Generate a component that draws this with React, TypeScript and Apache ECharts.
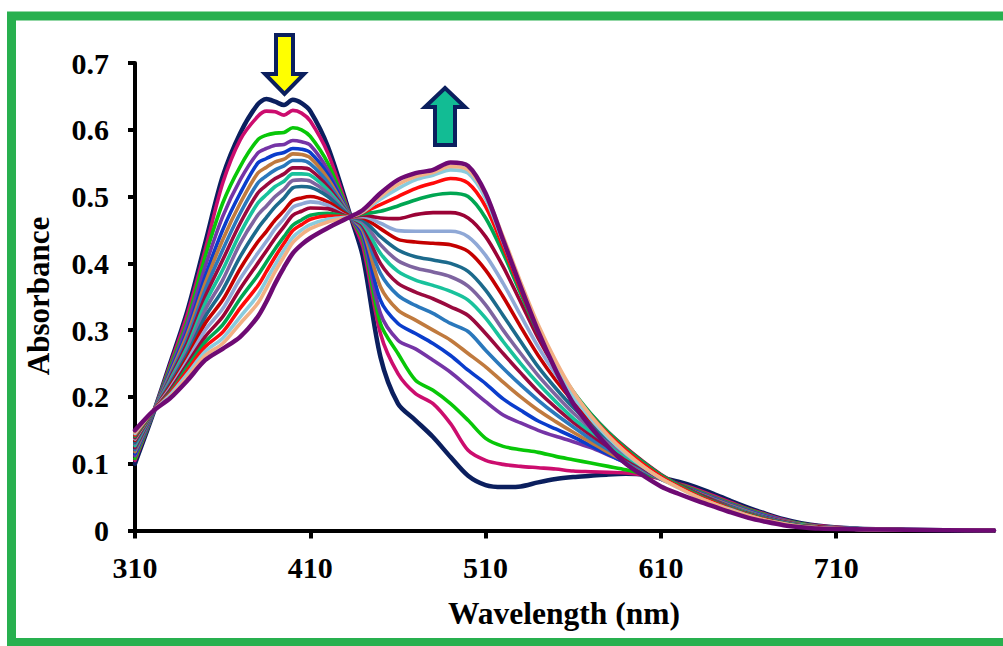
import React, { useEffect, useRef } from "react";
import * as echarts from "echarts";

// Wavelength grid (nm)
const wavelengths = [
  310, 320, 330, 340, 350, 360, 370, 380, 385, 390,
  395, 400, 405, 410, 420, 433, 440, 450, 460, 470,
  480, 490, 500, 510, 520, 530, 540, 550, 560, 570,
  580, 590, 600, 610, 620, 630, 640, 650, 660, 670,
  680, 690, 700, 720, 750, 800,
];

const xTicks = [310, 410, 510, 610, 710];

// Absorbance spectra, first (navy) to last (dark purple)
const s00 = [0.100, 0.172, 0.250, 0.330, 0.430, 0.530, 0.595, 0.638, 0.646, 0.642,
  0.637, 0.645, 0.640, 0.628, 0.575, 0.470, 0.410, 0.260, 0.190, 0.165,
  0.140, 0.110, 0.082, 0.068, 0.065, 0.066, 0.072, 0.077, 0.080, 0.082,
  0.084, 0.085, 0.084, 0.079, 0.073, 0.065, 0.055, 0.044, 0.034, 0.025,
  0.017, 0.011, 0.007, 0.003, 0.001, 0];
const s01 = [0.105, 0.173, 0.248, 0.325, 0.420, 0.520, 0.585, 0.620, 0.628, 0.627,
  0.622, 0.629, 0.625, 0.613, 0.565, 0.470, 0.425, 0.295, 0.235, 0.205,
  0.190, 0.160, 0.120, 0.105, 0.099, 0.096, 0.094, 0.092, 0.089, 0.088,
  0.087, 0.086, 0.083, 0.077, 0.070, 0.062, 0.052, 0.042, 0.032, 0.024,
  0.016, 0.010, 0.007, 0.003, 0.001, 0];
const s02 = [0.108, 0.173, 0.244, 0.315, 0.410, 0.490, 0.545, 0.585, 0.592, 0.595,
  0.596, 0.603, 0.600, 0.590, 0.550, 0.470, 0.435, 0.310, 0.265, 0.225,
  0.210, 0.190, 0.165, 0.138, 0.126, 0.121, 0.117, 0.111, 0.106, 0.101,
  0.096, 0.091, 0.085, 0.078, 0.069, 0.060, 0.050, 0.040, 0.031, 0.023,
  0.015, 0.010, 0.006, 0.003, 0.001, 0];
const s03 = [0.112, 0.174, 0.240, 0.310, 0.395, 0.470, 0.525, 0.565, 0.572, 0.577,
  0.578, 0.584, 0.582, 0.577, 0.540, 0.470, 0.440, 0.325, 0.285, 0.272,
  0.255, 0.237, 0.215, 0.193, 0.173, 0.161, 0.150, 0.141, 0.133, 0.124,
  0.113, 0.102, 0.090, 0.078, 0.068, 0.059, 0.049, 0.039, 0.030, 0.022,
  0.015, 0.009, 0.006, 0.003, 0.001, 0];
const s04 = [0.115, 0.174, 0.237, 0.300, 0.380, 0.450, 0.505, 0.550, 0.557, 0.563,
  0.566, 0.572, 0.571, 0.566, 0.533, 0.470, 0.445, 0.345, 0.310, 0.295,
  0.280, 0.262, 0.240, 0.220, 0.197, 0.180, 0.164, 0.152, 0.140, 0.127,
  0.114, 0.101, 0.089, 0.077, 0.067, 0.058, 0.048, 0.038, 0.029, 0.021,
  0.014, 0.009, 0.006, 0.003, 0.001, 0];
const s05 = [0.118, 0.175, 0.234, 0.295, 0.370, 0.435, 0.490, 0.535, 0.544, 0.552,
  0.556, 0.564, 0.563, 0.558, 0.527, 0.470, 0.449, 0.365, 0.330, 0.315,
  0.300, 0.285, 0.265, 0.245, 0.222, 0.200, 0.180, 0.163, 0.147, 0.132,
  0.117, 0.103, 0.090, 0.077, 0.066, 0.057, 0.047, 0.037, 0.028, 0.020,
  0.014, 0.009, 0.006, 0.003, 0.001, 0];
const s06 = [0.121, 0.175, 0.231, 0.288, 0.360, 0.420, 0.475, 0.520, 0.531, 0.540,
  0.546, 0.554, 0.554, 0.549, 0.521, 0.470, 0.453, 0.385, 0.352, 0.337,
  0.325, 0.310, 0.298, 0.270, 0.243, 0.218, 0.195, 0.174, 0.155, 0.137,
  0.121, 0.106, 0.091, 0.077, 0.066, 0.056, 0.046, 0.036, 0.027, 0.020,
  0.013, 0.008, 0.005, 0.003, 0.001, 0];
const s07 = [0.124, 0.175, 0.228, 0.282, 0.350, 0.405, 0.460, 0.505, 0.517, 0.527,
  0.534, 0.543, 0.543, 0.540, 0.515, 0.470, 0.456, 0.400, 0.370, 0.357,
  0.347, 0.335, 0.322, 0.295, 0.265, 0.236, 0.208, 0.184, 0.162, 0.143,
  0.125, 0.108, 0.093, 0.078, 0.066, 0.056, 0.045, 0.035, 0.026, 0.019,
  0.013, 0.008, 0.005, 0.002, 0.001, 0];
const s08 = [0.127, 0.176, 0.225, 0.276, 0.340, 0.390, 0.445, 0.490, 0.503, 0.515,
  0.523, 0.534, 0.534, 0.532, 0.510, 0.470, 0.459, 0.415, 0.388, 0.375,
  0.367, 0.358, 0.345, 0.318, 0.283, 0.250, 0.220, 0.193, 0.168, 0.148,
  0.129, 0.111, 0.095, 0.079, 0.066, 0.055, 0.044, 0.034, 0.026, 0.018,
  0.012, 0.008, 0.005, 0.002, 0.001, 0];
const s09 = [0.130, 0.176, 0.222, 0.270, 0.330, 0.375, 0.430, 0.472, 0.486, 0.500,
  0.511, 0.524, 0.525, 0.523, 0.505, 0.470, 0.462, 0.428, 0.404, 0.393,
  0.387, 0.380, 0.366, 0.338, 0.300, 0.265, 0.232, 0.203, 0.176, 0.153,
  0.133, 0.114, 0.097, 0.080, 0.067, 0.055, 0.044, 0.034, 0.025, 0.018,
  0.012, 0.007, 0.005, 0.002, 0.001, 0];
const s10 = [0.132, 0.176, 0.219, 0.265, 0.320, 0.360, 0.410, 0.452, 0.469, 0.485,
  0.498, 0.513, 0.515, 0.514, 0.500, 0.470, 0.465, 0.440, 0.420, 0.410,
  0.405, 0.400, 0.388, 0.360, 0.322, 0.283, 0.245, 0.213, 0.184, 0.159,
  0.137, 0.117, 0.099, 0.081, 0.067, 0.055, 0.044, 0.034, 0.025, 0.018,
  0.012, 0.007, 0.005, 0.002, 0.001, 0];
const s11 = [0.135, 0.177, 0.216, 0.260, 0.310, 0.345, 0.392, 0.432, 0.448, 0.465,
  0.479, 0.494, 0.498, 0.500, 0.492, 0.470, 0.468, 0.452, 0.436, 0.432,
  0.430, 0.428, 0.418, 0.390, 0.350, 0.305, 0.262, 0.225, 0.193, 0.165,
  0.141, 0.120, 0.101, 0.082, 0.068, 0.055, 0.044, 0.033, 0.025, 0.017,
  0.011, 0.007, 0.005, 0.002, 0.001, 0];
const s12 = [0.137, 0.177, 0.213, 0.255, 0.300, 0.332, 0.377, 0.415, 0.433, 0.452,
  0.467, 0.484, 0.489, 0.492, 0.487, 0.470, 0.470, 0.460, 0.449, 0.448,
  0.448, 0.448, 0.440, 0.412, 0.370, 0.322, 0.275, 0.234, 0.199, 0.170,
  0.144, 0.122, 0.102, 0.083, 0.068, 0.055, 0.043, 0.033, 0.024, 0.017,
  0.011, 0.007, 0.004, 0.002, 0.001, 0];
const s13 = [0.139, 0.177, 0.210, 0.250, 0.290, 0.320, 0.362, 0.400, 0.419, 0.438,
  0.455, 0.472, 0.478, 0.483, 0.482, 0.470, 0.472, 0.468, 0.467, 0.473,
  0.476, 0.476, 0.468, 0.440, 0.395, 0.342, 0.288, 0.243, 0.205, 0.174,
  0.147, 0.124, 0.103, 0.084, 0.069, 0.056, 0.044, 0.033, 0.024, 0.017,
  0.011, 0.007, 0.004, 0.002, 0.001, 0];
const s14 = [0.141, 0.177, 0.207, 0.245, 0.282, 0.308, 0.347, 0.382, 0.402, 0.422,
  0.440, 0.457, 0.465, 0.472, 0.475, 0.470, 0.474, 0.478, 0.486, 0.495,
  0.502, 0.505, 0.500, 0.468, 0.415, 0.355, 0.296, 0.248, 0.208, 0.175,
  0.147, 0.123, 0.102, 0.083, 0.068, 0.055, 0.043, 0.033, 0.024, 0.017,
  0.011, 0.007, 0.004, 0.002, 0.001, 0];
const s15 = [0.143, 0.178, 0.205, 0.240, 0.275, 0.297, 0.333, 0.366, 0.388, 0.410,
  0.430, 0.449, 0.458, 0.466, 0.471, 0.470, 0.476, 0.488, 0.500, 0.512,
  0.520, 0.527, 0.520, 0.485, 0.425, 0.360, 0.298, 0.248, 0.206, 0.172,
  0.144, 0.120, 0.099, 0.081, 0.066, 0.053, 0.042, 0.032, 0.023, 0.016,
  0.010, 0.006, 0.004, 0.002, 0.001, 0];
const s16 = [0.145, 0.178, 0.203, 0.235, 0.268, 0.288, 0.320, 0.352, 0.375, 0.398,
  0.420, 0.439, 0.450, 0.458, 0.466, 0.470, 0.477, 0.496, 0.512, 0.525,
  0.532, 0.540, 0.535, 0.497, 0.432, 0.365, 0.300, 0.246, 0.202, 0.167,
  0.139, 0.115, 0.095, 0.078, 0.064, 0.051, 0.040, 0.031, 0.022, 0.015,
  0.010, 0.006, 0.004, 0.002, 0.001, 0];
const s17 = [0.147, 0.178, 0.200, 0.230, 0.262, 0.280, 0.310, 0.340, 0.363, 0.388,
  0.410, 0.431, 0.443, 0.452, 0.462, 0.470, 0.478, 0.500, 0.518, 0.530,
  0.536, 0.545, 0.540, 0.503, 0.440, 0.372, 0.308, 0.254, 0.208, 0.172,
  0.142, 0.117, 0.096, 0.078, 0.064, 0.051, 0.040, 0.030, 0.022, 0.015,
  0.010, 0.006, 0.004, 0.002, 0.001, 0];
const s18 = [0.150, 0.178, 0.198, 0.225, 0.255, 0.272, 0.290, 0.320, 0.343, 0.370,
  0.394, 0.415, 0.428, 0.438, 0.453, 0.470, 0.480, 0.505, 0.525, 0.535,
  0.540, 0.551, 0.546, 0.505, 0.435, 0.365, 0.298, 0.240, 0.190, 0.155,
  0.125, 0.100, 0.082, 0.066, 0.055, 0.045, 0.036, 0.027, 0.019, 0.013,
  0.008, 0.005, 0.003, 0.002, 0.001, 0];

const spectra = [s00, s01, s02, s03, s04, s05, s06, s07, s08, s09, s10, s11, s12, s13, s14, s15, s16, s17, s18];

const colors = [
  "#0B1F5E", "#CC0D6E", "#08C708", "#7534A6", "#0A3DCC", "#C07A3E", "#2A78BC",
  "#9A0A3E", "#19C29C", "#7E64A0", "#1C6A8C", "#C40000", "#8FA8D6", "#9B0336",
  "#00A652", "#FF0A0A", "#8ACBDD", "#F2B084", "#6E0A73",
];

const FONT = "'Liberation Serif', 'Times New Roman', serif";

export default function App() {
  const ref = useRef<HTMLDivElement>(null);

  useEffect(() => {
    if (!ref.current) return;
    const chart = echarts.init(ref.current, null, { renderer: "svg" });

    const series = spectra.map((vals, i) => ({
      type: "line",
      name: "S" + (i + 1),
      data: wavelengths.map((w, j) => [w, vals[j]]),
      showSymbol: false,
      smooth: 0.3,
      lineStyle: {
        color: colors[i],
        width: i === 0 || i === spectra.length - 1 ? 4.5 : 3.6,
        cap: "round",
        join: "round",
      },
      itemStyle: { color: colors[i] },
      silent: true,
    }));

    chart.setOption({
      animation: false,
      backgroundColor: "#ffffff",
      grid: {
        left: 135,
        right: 9,
        top: 63,
        bottom: 115.5,
        containLabel: false,
        outerBoundsMode: "none",
      },
      xAxis: {
        type: "value",
        min: 310,
        max: 800,
        interval: 100,
        axisLine: { show: true, onZero: false, lineStyle: { color: "#000", width: 4 } },
        axisTick: {
          show: true,
          length: 8,
          lineStyle: { color: "#000", width: 4 },
          customValues: xTicks,
        },
        axisLabel: {
          customValues: xTicks,
          margin: 22,
          color: "#000",
          fontFamily: FONT,
          fontWeight: "bold",
          fontSize: 30,
        },
        splitLine: { show: false },
      },
      yAxis: {
        type: "value",
        min: 0,
        max: 0.7,
        interval: 0.1,
        axisLine: { show: true, onZero: false, lineStyle: { color: "#000", width: 4 } },
        axisTick: { show: true, length: 7, lineStyle: { color: "#000", width: 4 } },
        axisLabel: {
          margin: 26,
          color: "#000",
          fontFamily: FONT,
          fontWeight: "bold",
          fontSize: 30,
        },
        splitLine: { show: false },
      },
      graphic: {
        elements: [
          {
            type: "rect",
            silent: true,
            z: 100,
            shape: { x: 11.5, y: 16, width: 1010, height: 626.5 },
            style: { fill: "none", stroke: "#28B04F", lineWidth: 9 },
          },
          {
            type: "text",
            x: 564,
            y: 613,
            style: {
              text: "Wavelength (nm)",
              fontFamily: FONT,
              fontWeight: "bold",
              fontSize: 31.5,
              fill: "#000",
              textAlign: "center",
              textVerticalAlign: "middle",
            },
          },
          {
            type: "text",
            x: 38,
            y: 296,
            rotation: Math.PI / 2,
            style: {
              text: "Absorbance",
              fontFamily: FONT,
              fontWeight: "bold",
              fontSize: 31,
              fill: "#000",
              textAlign: "center",
              textVerticalAlign: "middle",
            },
          },
          {
            type: "polygon",
            z: 100,
            shape: {
              points: [
                [276, 35], [293, 35], [293, 74], [304, 74], [284.5, 94],
                [265, 74], [276, 74],
              ],
            },
            style: { fill: "#FFFF00", stroke: "#0B1F5E", lineWidth: 4, lineJoin: "miter" },
          },
          {
            type: "polygon",
            z: 100,
            shape: {
              points: [
                [445, 88], [465, 107], [455, 107], [455, 145], [435, 145],
                [435, 107], [425, 107],
              ],
            },
            style: { fill: "#12BC94", stroke: "#0B1F5E", lineWidth: 4, lineJoin: "miter" },
          },
        ],
      },
      series,
    });

    return () => chart.dispose();
  }, []);

  return (
    <div
      ref={ref}
      style={{ position: "fixed", left: 0, top: 0, width: 1003, height: 646, background: "#fff" }}
    />
  );
}
